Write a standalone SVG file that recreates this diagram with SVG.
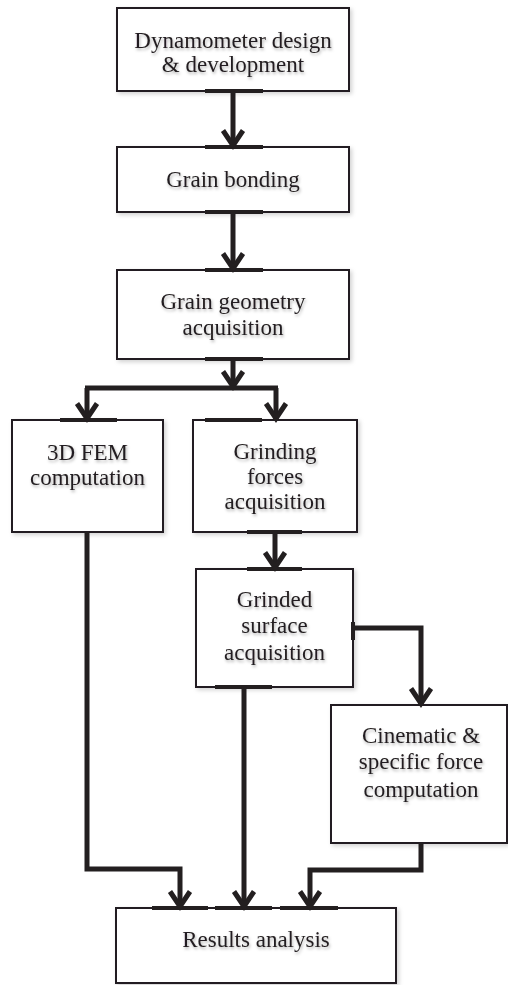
<svg xmlns="http://www.w3.org/2000/svg" width="508" height="985" viewBox="0 0 508 985">
  <style>
    .box { fill: #ffffff; stroke: #231f20; stroke-width: 2; }
    .edge { stroke: #231f20; stroke-width: 4; fill: none; }
    .conn { stroke: #231f20; stroke-width: 5; fill: none; stroke-linejoin: miter; }
    .lbl { font-family: "Liberation Serif", "Times New Roman", serif; font-size: 23px; fill: #231f20; text-anchor: middle; filter: url(#tsh); }
  </style>
  <defs>
    <filter id="tsh" x="-10%" y="-30%" width="120%" height="170%">
      <feDropShadow dx="1" dy="2" stdDeviation="1.5" flood-color="#000" flood-opacity="0.3"/>
    </filter>
    <filter id="bsh" x="-5%" y="-5%" width="115%" height="115%">
      <feDropShadow dx="2" dy="2" stdDeviation="2" flood-color="#000" flood-opacity="0.18"/>
    </filter>
    <marker id="arr" markerUnits="userSpaceOnUse" viewBox="-20 -14 26 28" refX="1.5" refY="0" markerWidth="26" markerHeight="28" orient="auto" overflow="visible">
      <path d="M-15,-10 L0,0 L-15,10" fill="none" stroke="#231f20" stroke-width="5" stroke-linejoin="miter"/>
    </marker>
  </defs>

  <g id="n1">
    <rect class="box" x="117" y="8" width="232" height="83" filter="url(#bsh)"/>
    <text class="lbl" x="233" y="48">Dynamometer design</text>
    <text class="lbl" x="233" y="72">&amp; development</text>
  </g>
  <g id="n2">
    <rect class="box" x="117" y="147" width="232" height="65" filter="url(#bsh)"/>
    <text class="lbl" x="233" y="187">Grain bonding</text>
  </g>
  <g id="n3">
    <rect class="box" x="117" y="270" width="232" height="89" filter="url(#bsh)"/>
    <text class="lbl" x="233" y="309">Grain geometry</text>
    <text class="lbl" x="233" y="335">acquisition</text>
  </g>
  <g id="n4">
    <rect class="box" x="12" y="420" width="151" height="112" filter="url(#bsh)"/>
    <text class="lbl" x="87.5" y="460">3D FEM</text>
    <text class="lbl" x="87.5" y="485">computation</text>
  </g>
  <g id="n5">
    <rect class="box" x="193" y="420" width="164" height="112" filter="url(#bsh)"/>
    <text class="lbl" x="275" y="459">Grinding</text>
    <text class="lbl" x="275" y="484">forces</text>
    <text class="lbl" x="275" y="509">acquisition</text>
  </g>
  <g id="n6">
    <rect class="box" x="196" y="569" width="157" height="118" filter="url(#bsh)"/>
    <text class="lbl" x="274.5" y="607">Grinded</text>
    <text class="lbl" x="274.5" y="633">surface</text>
    <text class="lbl" x="274.5" y="660">acquisition</text>
  </g>
  <g id="n7">
    <rect class="box" x="331" y="705" width="176" height="138" filter="url(#bsh)"/>
    <text class="lbl" x="421" y="743">Cinematic &amp;</text>
    <text class="lbl" x="421" y="769">specific force</text>
    <text class="lbl" x="421" y="797">computation</text>
  </g>
  <g id="n8">
    <rect class="box" x="116" y="908" width="280" height="75" filter="url(#bsh)"/>
    <text class="lbl" x="256" y="947">Results analysis</text>
  </g>

  <g id="edge-accents">
    <path class="edge" d="M205,91 H263 M205,147 H263 M205,212 H263 M205,270 H263 M205,359 H263 M60,420 H117 M205,420 H262 M247,532 H302 M247,569 H302 M353,622 V640 M215,687 H272 M152,908 H208 M215,908 H272 M280,908 H338"/>
  </g>

  <g id="connectors">
    <path class="conn" d="M233,91 V147" marker-end="url(#arr)"/>
    <path class="conn" d="M233,212 V270" marker-end="url(#arr)"/>
    <path class="conn" d="M233,359 V388" marker-end="url(#arr)"/>
    <path class="conn" d="M85,388 H278"/>
    <path class="conn" d="M87,388 V420" marker-end="url(#arr)"/>
    <path class="conn" d="M276,388 V420" marker-end="url(#arr)"/>
    <path class="conn" d="M275,532 V569" marker-end="url(#arr)"/>
    <path class="conn" d="M353,628 H421 V705" marker-end="url(#arr)"/>
    <path class="conn" d="M87,532 V869 H180 V908" marker-end="url(#arr)"/>
    <path class="conn" d="M244,687 V908" marker-end="url(#arr)"/>
    <path class="conn" d="M421,843 V870 H310 V908" marker-end="url(#arr)"/>
  </g>
</svg>
